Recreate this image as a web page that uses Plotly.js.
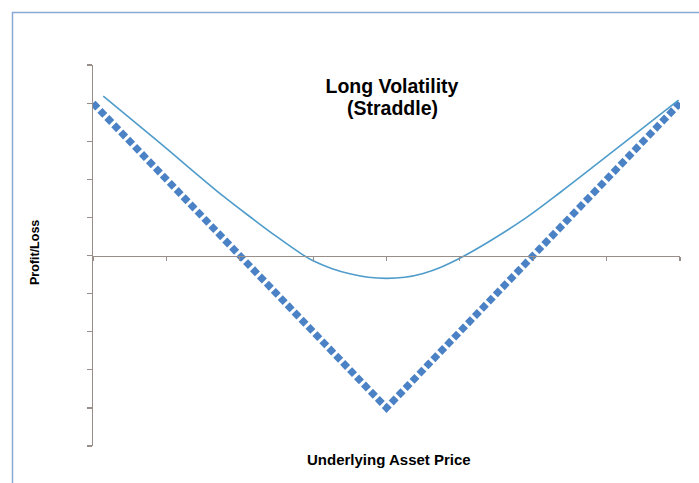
<!DOCTYPE html>
<html>
<head>
<meta charset="utf-8">
<script src="https://cdn.plot.ly/plotly-3.0.1.min.js"></script>
<style>
  html, body { margin: 0; padding: 0; background: #ffffff; }
  #chart { width: 699px; height: 483px; }
</style>
</head>
<body>
<div id="chart"></div>
<script>
// Payoff at expiry (straddle): underlying price positions and P/L
var payoffX = [0, 4, 8];
var payoffY = [4, -4, 4];

// Value before expiry (smooth curve)
var curveX = [0.14, 0.87, 1.78, 2.2, 2.5, 2.85, 3.0, 3.25, 3.5, 3.75, 4.0, 4.25, 4.5, 4.75, 5.05, 5.41, 5.91, 6.37, 6.82, 7.27, 7.98];
var curveY = [4.18, 3.02, 1.55, 0.93, 0.5, 0.03, -0.14, -0.34, -0.48, -0.57, -0.6, -0.57, -0.47, -0.3, -0.02, 0.38, 1.0, 1.66, 2.33, 3.01, 4.08];

var titleLine1 = "Long Volatility";
var titleLine2 = "(Straddle)";
var xTitle = "Underlying Asset Price";
var yTitle = "Profit/Loss";

var axisColor = "#978d89";
var font = "Arial, 'Liberation Sans', sans-serif";

var traces = [
  {
    x: payoffX, y: payoffY, type: "scatter", mode: "lines",
    line: { color: "#4b82c5", width: 7, dash: "7px,3px" },
    hoverinfo: "skip"
  },
  {
    x: curveX, y: curveY, type: "scatter", mode: "lines",
    line: { color: "#4f9ccb", width: 1.6, shape: "spline", smoothing: 1 },
    hoverinfo: "skip"
  }
];

var layout = {
  width: 699, height: 483,
  margin: { l: 93, r: 19, t: 65, b: 37 },
  paper_bgcolor: "#ffffff", plot_bgcolor: "rgba(0,0,0,0)",
  showlegend: false,
  title: {
    text: titleLine1,
    font: { family: font, size: 19.5, color: "#000000", weight: "bold" },
    x: 392 / 699, xanchor: "center",
    y: 1 - 86 / 483, yanchor: "middle"
  },
  xaxis: {
    range: [0, 8], dtick: 1, tick0: 0,
    showgrid: false, zeroline: false,
    showline: true, linecolor: axisColor, linewidth: 1.3,
    ticks: "outside", ticklen: 4, tickcolor: axisColor, tickwidth: 1.2,
    showticklabels: false,
    anchor: "free", position: 0.5
  },
  yaxis: {
    range: [-5, 5], dtick: 1, tick0: 0,
    showgrid: false, zeroline: false,
    showline: true, linecolor: axisColor, linewidth: 1.3,
    ticks: "outside", ticklen: 5, tickcolor: axisColor, tickwidth: 1.2,
    showticklabels: false
  },
  annotations: [
    {
      text: "<b>" + titleLine2 + "</b>",
      xref: "paper", yref: "paper", x: (392 - 93) / 587, y: (446 - 108) / 381,
      xanchor: "center", yanchor: "middle", showarrow: false,
      font: { family: font, size: 19.5, color: "#000000" }
    },
    {
      text: "<b>" + yTitle + "</b>", textangle: -90,
      xref: "paper", yref: "paper", x: (35 - 93) / 587, y: (446 - 253) / 381,
      xanchor: "center", yanchor: "middle", showarrow: false,
      font: { family: font, size: 12.5, color: "#000000" }
    },
    {
      text: "<b>" + xTitle + "</b>",
      xref: "paper", yref: "paper", x: (388.5 - 93) / 587, y: (446 - 459) / 381,
      xanchor: "center", yanchor: "middle", showarrow: false,
      font: { family: font, size: 15, color: "#000000" }
    }
  ],
  shapes: [
    {
      type: "rect", xref: "paper", yref: "paper",
      x0: (12.5 - 93) / 587, x1: (710 - 93) / 587,
      y0: (446 - 500) / 381, y1: (446 - 12.5) / 381,
      line: { color: "#86a9d6", width: 1.5 }, fillcolor: "rgba(0,0,0,0)",
      layer: "below"
    }
  ]
};

Plotly.newPlot("chart", traces, layout, { staticPlot: true, displayModeBar: false });
</script>
</body>
</html>
